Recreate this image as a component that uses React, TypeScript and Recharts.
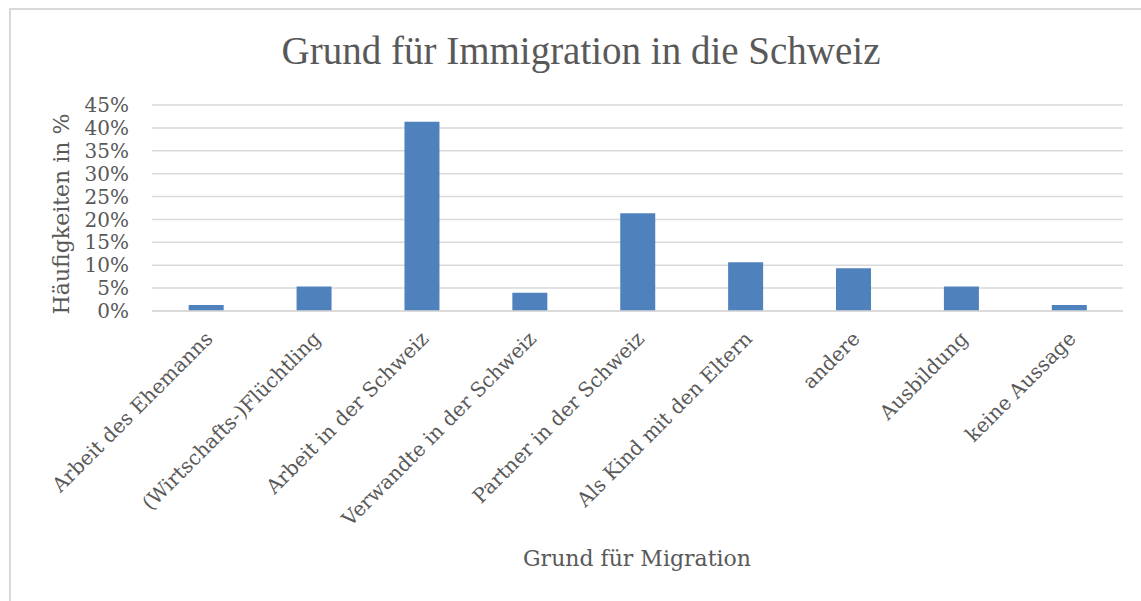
import React from "react";
import { BarChart, Bar, XAxis, YAxis, CartesianGrid } from "recharts";

const categories = [
  "Arbeit des Ehemanns",
  "(Wirtschafts-)Flüchtling",
  "Arbeit in der Schweiz",
  "Verwandte in der Schweiz",
  "Partner in der Schweiz",
  "Als Kind mit den Eltern",
  "andere",
  "Ausbildung",
  "keine Aussage",
];
const percentages = [1.33, 5.33, 41.33, 4.0, 21.33, 10.67, 9.33, 5.33, 1.33];
const yTicks = [0, 5, 10, 15, 20, 25, 30, 35, 40, 45];

const title = "Grund für Immigration in die Schweiz";
const xTitle = "Grund für Migration";
const yTitle = "Häufigkeiten in %";

const data = categories.map((c, i) => ({ name: c, value: percentages[i] }));

const FONT = "'DejaVu Serif', serif";
const TITLE_FONT = "'Liberation Serif', serif";
const TEXT = "#595959";

const XTick = (props: any) => {
  const { x, y, payload } = props;
  const ax = x + 3;
  const ay = y + 16;
  return (
    <text
      x={ax}
      y={ay}
      dy="0.35em"
      textAnchor="end"
      transform={`rotate(-45, ${ax}, ${ay})`}
      fontFamily={FONT}
      fontSize={20}
      fill={TEXT}
    >
      {payload.value}
    </text>
  );
};

export default function App() {
  return (
    <div style={{ position: "fixed", left: 0, top: 0, width: 1141, height: 601, background: "#fff", overflow: "hidden" }}>
      <div
        style={{
          position: "absolute",
          left: 9,
          top: 8,
          width: 1200,
          height: 700,
          border: "2px solid #D9D9D9",
          boxSizing: "border-box",
        }}
      />
      <div
        style={{
          position: "absolute",
          left: 0,
          width: 1162,
          top: 27,
          textAlign: "center",
          fontFamily: TITLE_FONT,
          fontSize: 39,
          color: TEXT,
          lineHeight: "48px",
          whiteSpace: "nowrap",
        }}
      >
        {title}
      </div>
      <div
        style={{
          position: "absolute",
          left: 637 - 200,
          width: 400,
          top: 545,
          textAlign: "center",
          fontFamily: FONT,
          fontSize: 22,
          color: TEXT,
          lineHeight: "28px",
          whiteSpace: "nowrap",
        }}
      >
        {xTitle}
      </div>
      <div
        style={{
          position: "absolute",
          left: 62 - 150,
          top: 214 - 14,
          width: 300,
          textAlign: "center",
          fontFamily: FONT,
          fontSize: 22,
          color: TEXT,
          lineHeight: "28px",
          whiteSpace: "nowrap",
          transform: "rotate(-90deg)",
        }}
      >
        {yTitle}
      </div>
      <div style={{ position: "absolute", left: 0, top: 0 }}>
        <BarChart
          width={1141}
          height={601}
          data={data}
          margin={{ top: 105, right: 18, left: 0, bottom: 0 }}
          barCategoryGap="34%"
        >
          <CartesianGrid vertical={false} stroke="#D9D9D9" strokeWidth={1.5} />
          <XAxis
            dataKey="name"
            interval={0}
            height={290}
            tickLine={false}
            axisLine={{ stroke: "#D9D9D9", strokeWidth: 1.5 }}
            tick={<XTick />}
          />
          <YAxis
            width={152}
            domain={[0, 45]}
            ticks={yTicks}
            interval={0}
            axisLine={false}
            tickLine={false}
            tickSize={0}
            tickMargin={23}
            tickFormatter={(v: number) => `${v}%`}
            tick={{ fontFamily: FONT, fontSize: 20, fill: TEXT }}
          />
          <Bar dataKey="value" fill="#4F81BD" isAnimationActive={false} />
        </BarChart>
      </div>
    </div>
  );
}
